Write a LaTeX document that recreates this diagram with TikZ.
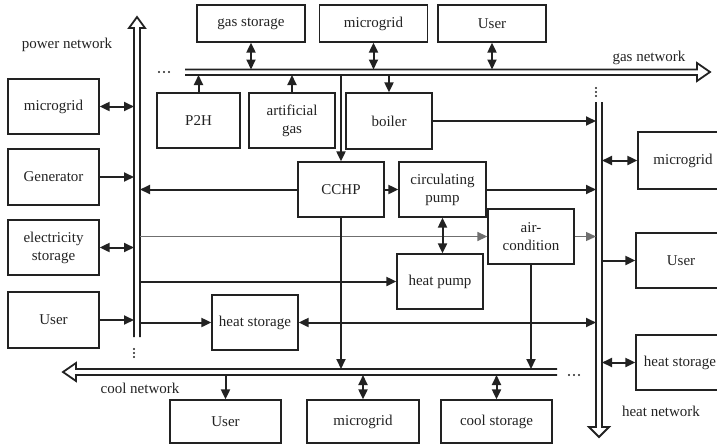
\documentclass[tikz,border=0pt]{standalone}
\usepackage{fontspec}
\setmainfont{Liberation Serif}
\usetikzlibrary{arrows.meta}
\definecolor{ink}{HTML}{222222}
\begin{document}
\begin{tikzpicture}[x=1pt,y=-1pt,
  box/.style={draw=ink, line width=1.3pt, minimum width=86pt, minimum height=55pt,
    inner sep=1pt, align=center, text=ink, font=\fontsize{15}{18}\selectfont},
  wide/.style={minimum width=108pt, minimum height=37pt},
  low/.style={minimum width=111pt, minimum height=43pt},
  side/.style={minimum width=91pt, minimum height=55pt},
  tip/.tip={Triangle[length=10pt,width=9pt]},
  conn/.style={draw=ink, line width=2pt, -tip},
  both/.style={draw=ink, line width=2pt, tip-tip},
  faint/.style={draw=ink!65, line width=1.4pt, -tip},
  bus/.style={draw=ink, line width=1.8pt, line join=miter},
  lbl/.style={text=ink, font=\fontsize{15}{18}\selectfont},
  dot/.style={fill=ink}
]
\useasboundingbox (0,0) rectangle (717,445);

% ---- network buses (double lines with hollow heads) ----
\draw[bus] (134,337) -- (134,28) -- (129,28) -- (137,17) -- (145,28) -- (140,28) -- (140,337);
\draw[bus] (185,69.5) -- (697,69.5) -- (697,63) -- (710,72) -- (697,81) -- (697,75) -- (185,75);
\draw[bus] (596,102) -- (596,427) -- (589,427) -- (599,437) -- (609,427) -- (602,427) -- (602,102);
\draw[bus] (557,369) -- (76,369) -- (76,363) -- (63,372) -- (76,381) -- (76,375) -- (557,375);

\coordinate (pbL) at (134,0);  \coordinate (pbR) at (140,0);
\coordinate (gT) at (0,69.5);  \coordinate (gB) at (0,75);
\coordinate (hL) at (596,0);   \coordinate (hR) at (602,0);
\coordinate (cT) at (0,369);   \coordinate (cB) at (0,375);

% continuation dots
\foreach \y in {349,353,357} \fill[dot] (134,\y) circle (1.2pt);
\foreach \y in {88,92,96} \fill[dot] (596,\y) circle (1.2pt);
\foreach \x in {159,164,169} \fill[dot] (\x,72) circle (1.2pt);
\foreach \x in {569,574,579} \fill[dot] (\x,375) circle (1.2pt);

% network labels
\node[lbl] (lpow) at (67,45) {power network};
\node[lbl] (lgas) at (649,58) {gas network};
\node[lbl] (lcool) at (140,388) {cool network};
\node[lbl] (lheat) at (661,411) {heat network};

% ---- devices ----
\node[box,wide] (gs) at (251,23.5) {gas storage};
\node[box,wide] (mgT) at (373.5,23.5) {microgrid};
\node[box,wide] (userT) at (492,23.5) {User};

\node[box,minimum width=83pt] (p2h) at (198.5,120.5) {P2H};
\node[box] (ag) at (292,120.5) {artificial\\gas};
\node[box,minimum height=56pt] (boiler) at (389,121) {boiler};

\node[box] (cchp) at (341,189.5) {CCHP};
\node[box,minimum width=87pt] (cp) at (442.5,189.5) {circulating\\pump};
\node[box] (ac) at (531,236.5) {air-\\condition};
\node[box] (hp) at (440,281.5) {heat pump};
\node[box] (hs) at (255,322.5) {heat storage};

\node[box,side] (mgL) at (53.5,106.5) {microgrid};
\node[box,side,minimum height=56pt] (gen) at (53.5,177) {Generator};
\node[box,side] (es) at (53.5,247.5) {electricity\\storage};
\node[box,side,minimum height=56pt] (userL) at (53.5,320) {User};

\node[box,minimum width=90pt,minimum height=57pt] (mgR) at (683,160.5) {microgrid};
\node[box,minimum width=90pt] (userR) at (681,260.5) {User};
\node[box,minimum width=88pt] (hsR) at (680,362.5) {heat storage};

\node[box,low] (userB) at (225.5,421.5) {User};
\node[box,low,minimum width=112pt] (mgB) at (363,421.5) {microgrid};
\node[box,low] (csB) at (496.5,421.5) {cool storage};

% ---- power network links ----
\draw[both] (mgL.east) -- (mgL.east -| pbL);
\draw[conn] (gen.east) -- (gen.east -| pbL);
\draw[both] (es.east) -- (es.east -| pbL);
\draw[conn] (userL.east) -- (userL.east -| pbL);
\draw[conn] (cchp.west) -- (cchp.west -| pbR);
\draw[faint] (ac.west -| pbR) -- (ac.west);
\draw[conn] (hp.west -| pbR) -- (hp.west);
\draw[conn] (hs.west -| pbR) -- (hs.west);

% ---- gas network links ----
\draw[both] (gs.south) -- (gs.south |- gT);
\draw[both] (mgT.south) -- (mgT.south |- gT);
\draw[both] (userT.south) -- (userT.south |- gT);
\draw[conn] (p2h.north) -- (p2h.north |- gB);
\draw[conn] (ag.north) -- (ag.north |- gB);
\draw[conn] (cchp.north |- gB) -- (cchp.north);
\draw[conn] (boiler.north |- gB) -- (boiler.north);

% ---- heat network links ----
\draw[conn] (boiler.east) -- (boiler.east -| hL);
\draw[conn] (cchp.east) -- (cp.west);
\draw[conn] (cp.east) -- (cp.east -| hL);
\draw[both] (cp.south) -- (cp.south |- hp.north);
\draw[faint] (ac.east) -- (ac.east -| hL);
\draw[both] (hs.east) -- (hs.east -| hL);
\draw[both] (mgR.west -| hR) -- (mgR.west);
\draw[conn] (userR.west -| hR) -- (userR.west);
\draw[both] (hsR.west -| hR) -- (hsR.west);

% ---- cool network links ----
\draw[conn] (cchp.south) -- (cchp.south |- cT);
\draw[conn] (ac.south) -- (ac.south |- cT);
\draw[conn] (userB.north |- cB) -- (userB.north);
\draw[both] (mgB.north |- cB) -- (mgB.north);
\draw[both] (csB.north |- cB) -- (csB.north);
\end{tikzpicture}
\end{document}
